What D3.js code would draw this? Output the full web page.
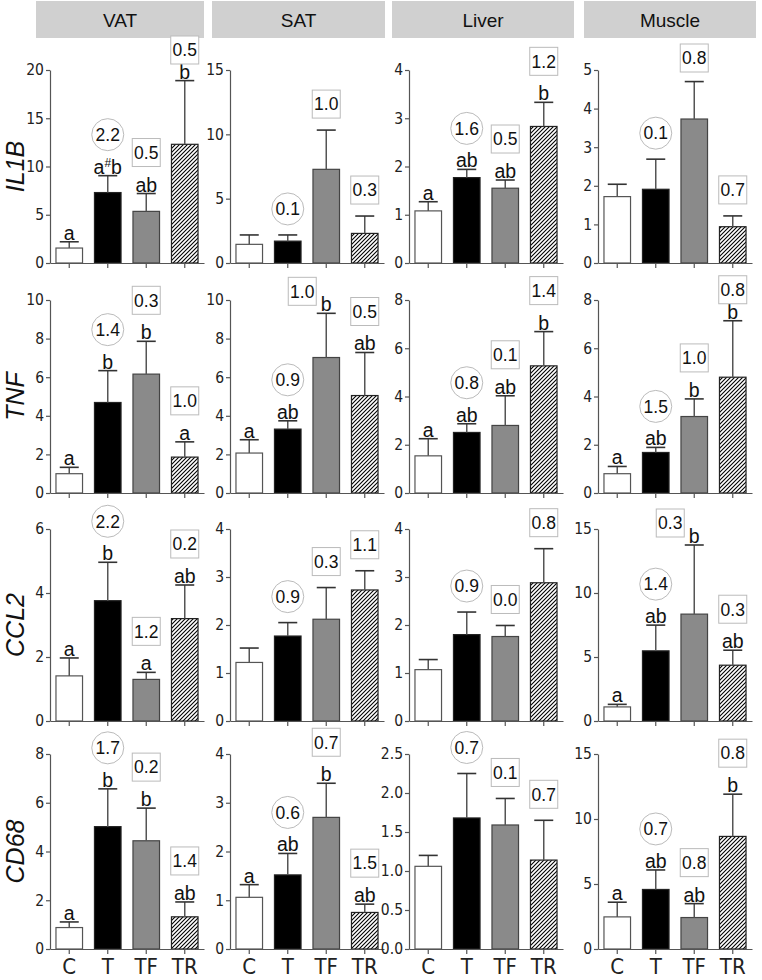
<!DOCTYPE html>
<html><head><meta charset="utf-8">
<script src="https://cdn.jsdelivr.net/npm/d3@7"></script>
<style>body{margin:0;background:#fff}svg{display:block}</style>
</head><body>
<svg id="chart" width="762" height="980"></svg>
<script>
// ---------- data ----------
const tissues = ["VAT", "SAT", "Liver", "Muscle"];
const genes = ["IL1B", "TNF", "CCL2", "CD68"];
const groups = ["C", "T", "TF", "TR"];

// y-axis maxima and tick steps, per gene row, per tissue column
const il1bAxis = [[20, 5], [15, 5], [4, 1], [5, 1]];
const tnfAxis  = [[10, 2], [10, 2], [8, 2], [8, 2]];
const ccl2Axis = [[6, 2], [4, 1], [4, 1], [15, 5]];
const cd68Axis = [[8, 2], [4, 1], [2.5, 0.5], [15, 5]];

// means (C, T, TF, TR) per tissue
const il1bMean = [[1.55, 7.3, 5.35, 12.3], [1.45, 1.7, 7.28, 2.3], [1.08, 1.77, 1.55, 2.83], [1.72, 1.91, 3.73, 0.94]];
const il1bSE   = [[0.65, 1.75, 1.85, 6.6], [0.73, 0.48, 3.05, 1.35], [0.19, 0.17, 0.17, 0.5], [0.32, 0.78, 0.97, 0.28]];
const tnfMean  = [[1.0, 4.69, 6.16, 1.86], [2.07, 3.31, 7.02, 5.05], [1.54, 2.51, 2.8, 5.27], [0.8, 1.68, 3.17, 4.8]];
const tnfSE    = [[0.33, 1.65, 1.7, 0.79], [0.69, 0.43, 2.29, 2.23], [0.71, 0.36, 1.23, 1.42], [0.3, 0.21, 0.73, 2.34]];
const ccl2Mean = [[1.41, 3.76, 1.3, 3.2], [1.22, 1.77, 2.12, 2.73], [1.07, 1.8, 1.76, 2.88], [1.1, 5.48, 8.35, 4.36]];
const ccl2SE   = [[0.56, 1.2, 0.22, 1.05], [0.3, 0.28, 0.66, 0.4], [0.21, 0.47, 0.23, 0.71], [0.2, 2.01, 5.4, 1.17]];
const cd68Mean = [[0.88, 5.02, 4.44, 1.32], [1.06, 1.52, 2.7, 0.75], [1.06, 1.68, 1.59, 1.14], [2.47, 4.58, 2.42, 8.66]];
const cd68SE   = [[0.23, 1.55, 1.34, 0.61], [0.26, 0.44, 0.7, 0.17], [0.14, 0.57, 0.34, 0.51], [1.13, 1.5, 1.07, 3.25]];

// significance letters (C, T, TF, TR); "" = none
const il1bLetters = [["a", "a#b", "ab", "b"], ["", "", "", ""], ["a", "ab", "ab", "b"], ["", "", "", ""]];
const tnfLetters  = [["a", "b", "b", "a"], ["a", "ab", "b", "ab"], ["a", "ab", "ab", "b"], ["a", "ab", "b", "b"]];
const ccl2Letters = [["a", "b", "a", "ab"], ["", "", "", ""], ["", "", "", ""], ["a", "ab", "b", "ab"]];
const cd68Letters = [["a", "b", "b", "ab"], ["a", "ab", "b", "ab"], ["", "", "", ""], ["a", "ab", "ab", "b"]];

// annotations over T (circle), TF (box), TR (box)
const annotShapes = ["circle", "box", "box"];
const il1bAnnot = [["2.2", "0.5", "0.5"], ["0.1", "1.0", "0.3"], ["1.6", "0.5", "1.2"], ["0.1", "0.8", "0.7"]];
const tnfAnnot  = [["1.4", "0.3", "1.0"], ["0.9", "1.0", "0.5"], ["0.8", "0.1", "1.4"], ["1.5", "1.0", "0.8"]];
const ccl2Annot = [["2.2", "1.2", "0.2"], ["0.9", "0.3", "1.1"], ["0.9", "0.0", "0.8"], ["1.4", "0.3", "0.3"]];
const cd68Annot = [["1.7", "0.2", "1.4"], ["0.6", "0.7", "1.5"], ["0.7", "0.1", "0.7"], ["0.7", "0.8", "0.8"]];

const rows = [
  {axis: il1bAxis, mean: il1bMean, se: il1bSE, letters: il1bLetters, annot: il1bAnnot},
  {axis: tnfAxis,  mean: tnfMean,  se: tnfSE,  letters: tnfLetters,  annot: tnfAnnot},
  {axis: ccl2Axis, mean: ccl2Mean, se: ccl2SE, letters: ccl2Letters, annot: ccl2Annot},
  {axis: cd68Axis, mean: cd68Mean, se: cd68SE, letters: cd68Letters, annot: cd68Annot}
];

// ---------- layout ----------
const panelX = [50, 230, 409, 598];
const panelW = 154;
const rowTop = [70, 300, 529, 754];
const rowBottom = [263, 493, 721, 949];
const headerBox = [[36, 204], [212, 385], [392, 574], [584, 756]];
const narrow = "'Liberation Sans Narrow','Arial Narrow','DejaVu Sans Condensed',sans-serif";
const sans = "'Liberation Sans',Arial,sans-serif";
const fills = ["#ffffff", "#000000", "#8a8a8a", "url(#hatch)"];
const strokes = ["#555", "#222", "#444", "#222"];

const svg = d3.select("#chart");
const defs = svg.append("defs");
const pat = defs.append("pattern").attr("id", "hatch")
  .attr("patternUnits", "userSpaceOnUse").attr("width", 4).attr("height", 4);
pat.append("rect").attr("width", 4).attr("height", 4).attr("fill", "#fff");
pat.append("path").attr("d", "M-1,1 l2,-2 M0,4 l4,-4 M3,5 l2,-2")
  .attr("stroke", "#000").attr("stroke-width", 1.1);

// headers
tissues.forEach((t, j) => {
  const [a, b] = headerBox[j];
  svg.append("rect").attr("x", a).attr("y", 1).attr("width", b - a).attr("height", 37)
    .attr("fill", "#d0d0d0");
  svg.append("text").attr("x", (a + b) / 2).attr("y", 26.5).attr("text-anchor", "middle")
    .attr("font-family", sans).attr("font-size", 19).attr("fill", "#111").text(t);
});

// row titles
genes.forEach((g, i) => {
  const cy = (rowTop[i] + rowBottom[i]) / 2;
  svg.append("text").attr("transform", `translate(24,${cy}) rotate(-90)`)
    .attr("text-anchor", "middle").attr("font-family", sans).attr("font-style", "italic")
    .attr("font-size", 25).attr("fill", "#111").text(g);
});

rows.forEach((row, i) => {
  tissues.forEach((t, j) => {
    const [ymax, step] = row.axis[j];
    const x = d3.scaleBand().domain(groups).range([panelX[j], panelX[j] + panelW]).paddingInner(0.31).paddingOuter(0.155);
    const y = d3.scaleLinear().domain([0, ymax]).range([rowBottom[i], rowTop[i]]);
    const g = svg.append("g");
    const fmt = step < 1 ? d3.format(".1f") : d3.format("d");

    // bars
    const data = groups.map((gr, k) => ({gr, k, m: row.mean[j][k], se: row.se[j][k],
      letter: row.letters[j][k], annot: k > 0 ? row.annot[j][k - 1] : null}));
    g.selectAll("rect.bar").data(data).join("rect").attr("class", "bar")
      .attr("x", d => x(d.gr)).attr("width", x.bandwidth())
      .attr("y", d => y(d.m)).attr("height", d => y(0) - y(d.m))
      .attr("fill", d => fills[d.k]).attr("stroke", d => strokes[d.k]).attr("stroke-width", 1.2);

    // error bars
    const cx = d => x(d.gr) + x.bandwidth() / 2;
    g.selectAll("line.err").data(data).join("line").attr("class", "err")
      .attr("x1", cx).attr("x2", cx).attr("y1", d => y(d.m)).attr("y2", d => y(d.m + d.se))
      .attr("stroke", "#555").attr("stroke-width", 1.5);
    g.selectAll("line.cap").data(data).join("line").attr("class", "cap")
      .attr("x1", d => cx(d) - 9.5).attr("x2", d => cx(d) + 9.5)
      .attr("y1", d => y(d.m + d.se)).attr("y2", d => y(d.m + d.se))
      .attr("stroke", "#333").attr("stroke-width", 1.6);

    // axes
    const ya = g.append("g").attr("transform", `translate(${panelX[j]},0)`)
      .call(d3.axisLeft(y).tickValues(d3.range(0, ymax + step / 2, step)).tickFormat(fmt)
        .tickSize(4).tickSizeOuter(0));
    ya.select(".domain").attr("stroke", "#555").attr("stroke-width", 1.2);
    ya.selectAll(".tick line").attr("stroke", "#555").attr("stroke-width", 1.2);
    ya.selectAll(".tick text").attr("font-family", narrow).attr("font-size", 15.5)
      .attr("fill", "#222").attr("x", -6);

    const xa = g.append("g").attr("transform", `translate(0,${rowBottom[i]})`)
      .call(d3.axisBottom(x).tickSize(5).tickSizeOuter(0));
    xa.select(".domain").attr("stroke", "#555").attr("stroke-width", 1.2);
    xa.selectAll(".tick line").attr("stroke", "#555").attr("stroke-width", 1.2);
    if (i === 3) {
      xa.selectAll(".tick text").attr("font-family", narrow).attr("font-size", 22)
        .attr("fill", "#222").attr("y", 9).attr("dy", "0.71em");
    } else {
      xa.selectAll(".tick text").remove();
    }

    // letters and annotations
    data.forEach(d => {
      const top = y(d.m + d.se);
      const c = cx(d);
      if (d.letter) {
        const tx = g.append("text").attr("x", c).attr("y", top - 2).attr("text-anchor", "middle")
          .attr("font-family", sans).attr("font-size", 19.5).attr("fill", "#111");
        if (d.letter.includes("#")) {
          const [p1, p2] = d.letter.split("#");
          tx.append("tspan").text(p1);
          tx.append("tspan").attr("dy", -7).attr("font-size", 12).text("#");
          tx.append("tspan").attr("dy", 7).text(p2);
        } else tx.text(d.letter);
      }
      if (d.annot) {
        let ay = top - (d.letter ? 41 : 26);
        let ax = c;
        const minY = rowTop[i] - 12;
        if (ay < minY) {
          if (d.letter && d.k < 3) { ax = c - 24; ay = top - 22; }
          else if (d.letter) ay = Math.max(rowTop[i] - 20, top - 31);
          else ay = minY;
        }
        const shape = annotShapes[d.k - 1];
        if (shape === "circle") {
          g.append("circle").attr("cx", ax).attr("cy", ay).attr("r", 16)
            .attr("fill", "#fff").attr("stroke", "#bbb").attr("stroke-width", 1);
        } else {
          g.append("rect").attr("x", ax - 14).attr("y", ay - 14).attr("width", 28).attr("height", 28)
            .attr("fill", "#fff").attr("stroke", "#bbb").attr("stroke-width", 1);
        }
        g.append("text").attr("x", ax).attr("y", ay).attr("dy", "0.36em").attr("text-anchor", "middle")
          .attr("font-family", sans).attr("font-size", 17.5).attr("fill", "#111").text(d.annot);
      }
    });
  });
});
</script>
</body></html>
